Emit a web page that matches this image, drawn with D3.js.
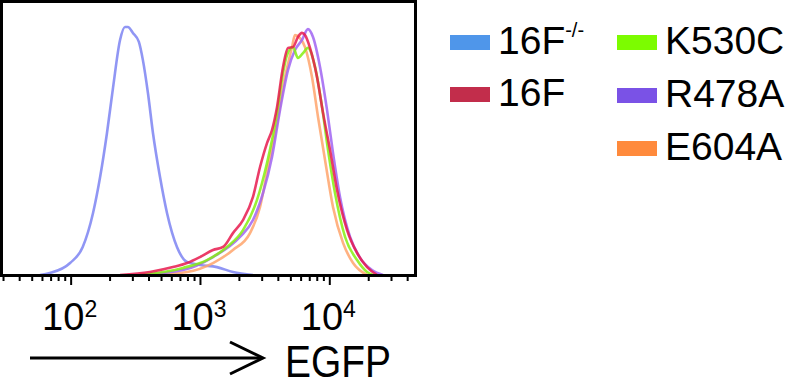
<!DOCTYPE html>
<html>
<head>
<meta charset="utf-8">
<script src="https://cdn.jsdelivr.net/npm/d3@7"></script>
<style>
body { margin: 0; background: #fff; }
svg text { font-family: "Liberation Sans", Arial, sans-serif; fill: #000; }
</style>
</head>
<body>
<div id="chart"></div>
<script>
const width = 796;
const height = 387;

// [EGFP intensity, % of max]
const ko16F = [[58,0],[69,0.7],[99,4.4],[124,10.3],[149,22.8],[169,36.0],[191,52.2],[213,69.1],[241,86.4],[263,91.2],[277,91.2],[303,89.0],[337,85.7],[362,79.0],[396,66.9],[433,52.2],[491,36.0],[556,22.8],[664,10.3],[794,4.8],[1000,3.7],[1353,2.9],[1799,1.1],[2570,0]];
const wt16F = [[241,0],[410,1.1],[618,2.9],[794,4.4],[1000,6.6],[1261,9.2],[1508,10.3],[1799,15.4],[2151,20.2],[2570,28.7],[2914,39.7],[3299,48.5],[3606,53.3],[3945,61.8],[4387,76.5],[4797,83.5],[5241,83.8],[5726,87.5],[6147,89.0],[6486,88.2],[7090,83.5],[8035,72.8],[8944,59.6],[10130,46.0],[11470,31.3],[13720,16.5],[16390,8.1],[19600,2.9],[23400,0]];
const k530c = [[343,0],[739,2.6],[1133,5.5],[1618,10.3],[2151,16.5],[2761,27.6],[3299,41.2],[3945,59.6],[4387,74.3],[4712,80.9],[5241,83.8],[5726,79.8],[6258,81.6],[6840,83.5],[7752,76.5],[8785,61.8],[9773,46.0],[11070,30.1],[13240,14.0],[16390,5.5],[19600,1.1],[21800,0]];
const r478a = [[343,0],[739,1.8],[1261,6.6],[2039,14.0],[2570,20.2],[3072,30.1],[3606,43.4],[4160,60.7],[4797,75.4],[5430,82.7],[6147,86.4],[6840,90.4],[7480,87.5],[8477,76.5],[9604,60.7],[10680,44.9],[12100,28.7],[14470,14.0],[17290,6.3],[21400,1.8],[26000,0]];
const e604a = [[410,0],[794,1.1],[1261,4.4],[1799,9.2],[2437,15.4],[2914,25.0],[3357,39.7],[3945,55.9],[4546,72.8],[5150,83.8],[5430,88.2],[5932,87.1],[6486,83.8],[7348,72.8],[8180,58.1],[9268,42.3],[10680,25.0],[12770,11.8],[15270,4.4],[19600,0]];

const seriesNames = ["16F", "16F", "K530C", "R478A", "E604A"];
const seriesData = [ko16F, wt16F, k530c, r478a, e604a];
const lineColors = ["#7d84f2", "#e81a4e", "#86ee10", "#a064f2", "#ffa46c"];
const swatchColors = ["#4f96ea", "#c22d4b", "#7cfc00", "#7a52e6", "#ff8a3c"];
const drawOrder = [0, 4, 3, 2, 1];

const majorTicks = [100, 1000, 10000];
const majorExp = ["2", "3", "4"];
const minorTicks = [30,40,50,60,70,80,90,200,300,400,500,600,700,800,900,2000,3000,4000,5000,6000,7000,8000,9000,20000,30000,40000];

const svg = d3.select("#chart")
    .append("svg")
    .attr("width", width)
    .attr("height", height);

const xScale = d3.scaleLog()
    .domain([29.2, 46400])
    .range([1.5, 415.5]);

const yScale = d3.scaleLinear()
    .domain([0, 100])
    .range([275, 3]);

const line = d3.line()
    .x(d => xScale(d[0]))
    .y(d => yScale(d[1]))
    .curve(d3.curveMonotoneX);

drawOrder.forEach(i => {
    svg.append("path")
        .datum(seriesData[i])
        .attr("fill", "none")
        .attr("stroke", lineColors[i])
        .attr("stroke-width", 2.6)
        .attr("stroke-opacity", 0.85)
        .attr("d", line);
});

// frame
svg.append("rect")
    .attr("x", 1.5)
    .attr("y", 1.5)
    .attr("width", 414)
    .attr("height", 274)
    .attr("fill", "none")
    .attr("stroke", "#000")
    .attr("stroke-width", 3);

const minorAxis = svg.append("g")
    .attr("transform", "translate(0, 276)")
    .call(d3.axisBottom(xScale).tickValues(minorTicks).tickSize(5).tickFormat(""));
const majorAxis = svg.append("g")
    .attr("transform", "translate(0, 276)")
    .call(d3.axisBottom(xScale).tickValues(majorTicks).tickSize(9).tickFormat(""));
[minorAxis, majorAxis].forEach(g => {
    g.select(".domain").remove();
    g.selectAll(".tick line").attr("stroke", "#000").attr("stroke-width", 2);
});

majorTicks.forEach((v, i) => {
    const t = svg.append("text")
        .attr("x", xScale(v) - 1)
        .attr("y", 330)
        .attr("text-anchor", "middle")
        .style("font-size", "38px");
    t.append("tspan").text("10");
    t.append("tspan")
        .attr("dy", -13)
        .style("font-size", "23px")
        .text(majorExp[i]);
});

// arrow
svg.append("line")
    .attr("x1", 30).attr("y1", 358)
    .attr("x2", 262).attr("y2", 358)
    .attr("stroke", "#000").attr("stroke-width", 3);
svg.append("polyline")
    .attr("points", "230,342 263,358 230,374")
    .attr("fill", "none")
    .attr("stroke", "#000").attr("stroke-width", 3);

svg.append("text")
    .attr("x", 285)
    .attr("y", 377)
    .attr("textLength", 106)
    .attr("lengthAdjust", "spacingAndGlyphs")
    .style("font-size", "45px")
    .text("EGFP");

// legend
const legendPos = [[450, 54], [450, 106], [617, 54], [617, 107], [617, 160]];
seriesNames.forEach((name, i) => {
    const [lx, ly] = legendPos[i];
    svg.append("rect")
        .attr("x", lx)
        .attr("y", ly - 19)
        .attr("width", 40)
        .attr("height", 15)
        .attr("fill", swatchColors[i]);
    const t = svg.append("text")
        .attr("x", lx + 48)
        .attr("y", ly)
        .style("font-size", "39px")
        .text(name);
    if (i === 0) {
        t.append("tspan")
            .attr("dy", -17)
            .style("font-size", "20px")
            .text("-/-");
    }
});
</script>
</body>
</html>
